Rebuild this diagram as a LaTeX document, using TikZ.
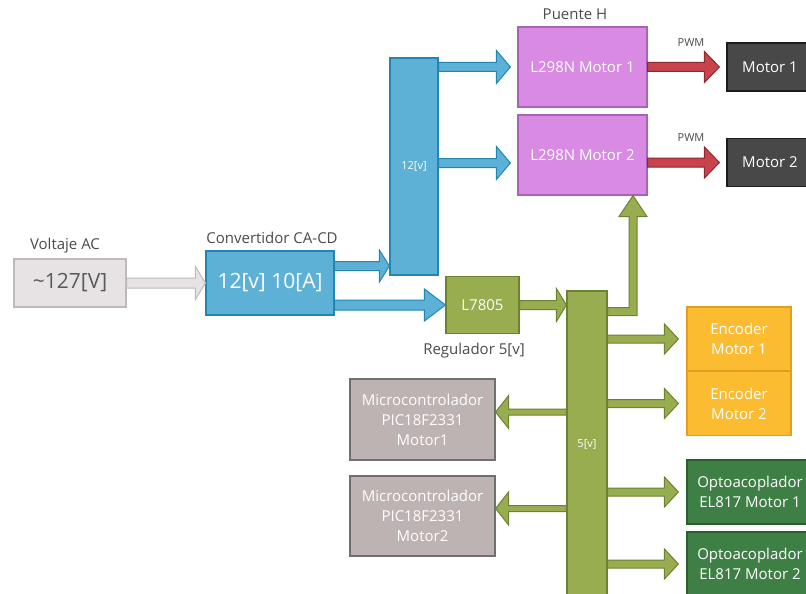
\documentclass[tikz,border=0pt]{standalone}
\usepackage{fontspec}
\setmainfont{Open Sans}
\usetikzlibrary{calc, positioning}

\definecolor{acfill}{HTML}{E7E3E5}
\definecolor{acline}{HTML}{BEBABC}
\definecolor{actext}{HTML}{5A5A5A}
\definecolor{lbltext}{HTML}{4A4A4A}
\definecolor{cdfill}{HTML}{5DB1D6}
\definecolor{cdline}{HTML}{2187B2}
\definecolor{hfill}{HTML}{D98AE3}
\definecolor{hline}{HTML}{A963B6}
\definecolor{pwmfill}{HTML}{C9434C}
\definecolor{pwmline}{HTML}{8C2630}
\definecolor{motfill}{HTML}{484848}
\definecolor{motline}{HTML}{1C1C1C}
\definecolor{regfill}{HTML}{98AD4F}
\definecolor{regline}{HTML}{6B8331}
\definecolor{encfill}{HTML}{FCBC31}
\definecolor{encline}{HTML}{E09E1E}
\definecolor{optfill}{HTML}{3E7F46}
\definecolor{optline}{HTML}{2B5E31}
\definecolor{picfill}{HTML}{BCB3B2}
\definecolor{picline}{HTML}{707070}

\begin{document}
\begin{tikzpicture}[x=1pt, y=-1pt,
  box/.style={draw, line width=1.2pt, inner sep=0pt, align=center, text=white,
    font=\fontsize{15}{20}\selectfont},
  lbl/.style={text=lbltext, font=\fontsize{15}{18}\selectfont},
  tiny/.style={text=lbltext, font=\fontsize{11}{13}\selectfont},
  blk/.style n args={3}{to path={let \p1=(\tikztostart), \p2=(\tikztotarget),
    \n1={sign(\x2-\x1)} in
    (\x1,\y1+#1) -- (\x2-\n1*#3,\y1+#1) -- (\x2-\n1*#3,\y1+#2) -- (\x2,\y1)
    -- (\x2-\n1*#3,\y1-#2) -- (\x2-\n1*#3,\y1-#1) -- (\x1,\y1-#1) -- cycle}},
  grayarrow/.style={fill=acfill, draw=acline, line width=1pt},
  bluearrow/.style={fill=cdfill, draw=cdline, line width=1pt},
  redarrow/.style={fill=pwmfill, draw=pwmline, line width=1pt},
  greenarrow/.style={fill=regfill, draw=regline, line width=1pt}]

  \useasboundingbox (0,0) rectangle (806,594);

  % fuente y convertidor
  \node[box, fill=acfill, draw=acline, text=actext, minimum width=112, minimum height=48,
    font=\fontsize{21}{24}\selectfont] (vac) at (70,283) {\textasciitilde127[V]};
  \node[box, fill=cdfill, draw=cdline, minimum width=128, minimum height=64,
    font=\fontsize{21}{24}\selectfont] (conv) at (270,283) {12[v] 10[A]};
  \node[lbl] (vaclbl) at (65,246) {Voltaje AC};
  \node[lbl] (convlbl) at (272,238) {Convertidor CA-CD};

  % buses
  \node[box, fill=cdfill, draw=cdline, minimum width=48, minimum height=217,
    font=\fontsize{11}{13}\selectfont] (bus12) at (414,166.5) {12[v]};
  \node[box, fill=regfill, draw=regline, minimum width=40, minimum height=320] (bus5) at (587,451) {};
  \node[text=white, font=\fontsize{11}{13}\selectfont] (bus5lbl) at (587,444) {5[v]};

  % puente H y motores
  \node[box, fill=hfill, draw=hline, minimum width=129, minimum height=80] (puente1) at (582.5,67) {L298N Motor 1};
  \node[box, fill=hfill, draw=hline, minimum width=129, minimum height=80] (puente2) at (582.5,155) {L298N Motor 2};
  \node[lbl] (puentelbl) at (575,14) {Puente H};
  \node[box, fill=motfill, draw=motline, minimum width=86, minimum height=48] (motor1) at (770,67) {Motor 1};
  \node[box, fill=motfill, draw=motline, minimum width=86, minimum height=48] (motor2) at (770,162.5) {Motor 2};
  \node[tiny] (pwm1) at (691,43) {PWM};
  \node[tiny] (pwm2) at (691,138) {PWM};

  % regulador
  \node[box, fill=regfill, draw=regline, minimum width=73, minimum height=57] (reg) at (482.5,305) {L7805};
  \node[lbl] (reglbl) at (474,351) {Regulador 5[v]};

  % cargas de 5[v]
  \node[box, fill=encfill, draw=encline, minimum width=104, minimum height=64] (enc1) at (739,339) {Encoder\\Motor 1};
  \node[box, fill=encfill, draw=encline, minimum width=104, minimum height=64] (enc2) at (739,403.5) {Encoder\\Motor 2};
  \node[box, fill=optfill, draw=optline, minimum width=126, minimum height=64] (opto1) at (750,492) {Optoacoplador\\EL817 Motor 1};
  \node[box, fill=optfill, draw=optline, minimum width=126, minimum height=64] (opto2) at (750,564) {Optoacoplador\\EL817 Motor 2};
  \node[box, fill=picfill, draw=picline, minimum width=145, minimum height=81] (pic1) at (422.5,419.5) {Microcontrolador\\PIC18F2331\\Motor1};
  \node[box, fill=picfill, draw=picline, minimum width=145, minimum height=80] (pic2) at (422.5,516) {Microcontrolador\\PIC18F2331\\Motor2};

  % flechas
  \draw[grayarrow] (vac.east) to[blk={5pt}{16.5pt}{10pt}] (conv.west);
  \draw[bluearrow] ([yshift=17pt]conv.east) to[blk={4.5pt}{16pt}{10pt}] ([yshift=17pt]conv.east -| bus12.west);
  \draw[bluearrow] (conv.east |- reg.west) to[blk={5pt}{16pt}{21pt}] (reg.west);
  \draw[bluearrow] (bus12.east |- puente1.west) to[blk={4.5pt}{16.5pt}{14pt}] ([xshift=-7pt]puente1.west);
  \draw[bluearrow] ([yshift=-8pt]puente2.west -| bus12.east) to[blk={4.5pt}{16.5pt}{14pt}] ([shift={(-7pt,-8pt)}]puente2.west);
  \draw[redarrow] (puente1.east) to[blk={4.5pt}{15.5pt}{15pt}] ([xshift=-7pt]motor1.west);
  \draw[redarrow] (puente2.east |- motor2.west) to[blk={4.5pt}{15.5pt}{15pt}] ([xshift=-7pt]motor2.west);
  \draw[greenarrow] (reg.east) to[blk={4.5pt}{16.5pt}{10pt}] (reg.east -| bus5.west);

  \coordinate (elb) at (633,311.5);
  \draw[greenarrow] let \p1=(bus5.east |- elb), \p2=(elb |- puente2.south) in
    (\x1,\y1+4pt) -- (\x2-4pt,\y1+4pt) -- (\x2-4pt,\y2-21pt) -- (\x2-14pt,\y2-21pt)
    -- (\x2,\y2) -- (\x2+14pt,\y2-21pt) -- (\x2+4pt,\y2-21pt) -- (\x2+4pt,\y1-4pt)
    -- (\x1,\y1-4pt) -- cycle;

  \foreach \load in {enc1, enc2, opto1, opto2}
    \draw[greenarrow] (bus5.east |- \load.west) to[blk={4pt}{15pt}{14pt}] ([xshift=-8pt]\load.west);
  \foreach \load in {pic1, pic2}
    \draw[greenarrow] ([yshift=7.5pt]\load.east -| bus5.west) to[blk={3pt}{16.5pt}{13pt}] ([yshift=7.5pt]\load.east);
\end{tikzpicture}
\end{document}
